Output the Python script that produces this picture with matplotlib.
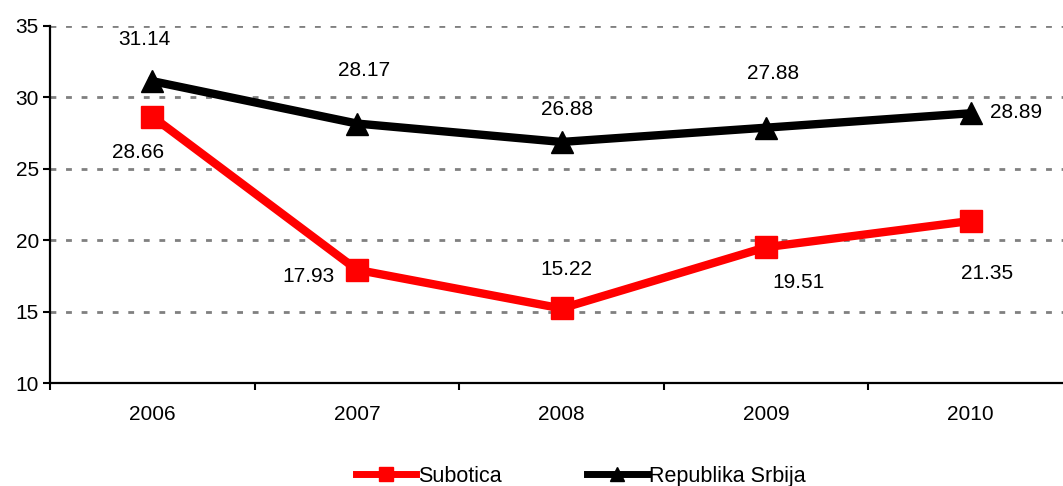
import numpy as np
import matplotlib
matplotlib.use('Agg')
import matplotlib.pyplot as plt

plt.rcParams['font.family'] = ['Liberation Sans', 'DejaVu Sans']
plt.rcParams['font.size'] = 15

# data
years = ['2006', '2007', '2008', '2009', '2010']
subotica = [28.66, 17.93, 15.22, 19.51, 21.35]
srbija = [31.14, 28.17, 26.88, 27.88, 28.89]

# label offsets in pixels (dx, dy up)
sub_off = [(-14, -36), (-48, -7), (5, 39), (32, -35), (16, -53)]
srb_off = [(-8, 42), (7, 53), (6, 32), (7, 54), (45, 1)]

fig = plt.figure(figsize=(10.63, 4.86), dpi=100)
ax = fig.add_axes([50 / 1063, 103 / 486, 1023 / 1063, 357 / 486])

x = np.arange(len(years))
ax.plot(x, subotica, color='#ff0000', lw=6, marker='s', ms=15.5,
        label='Subotica', zorder=3)
ax.plot(x, srbija, color='black', lw=6, marker='^', ms=15.5,
        label='Republika Srbija', zorder=3)

for xi, v, (dx, dy) in zip(x, subotica, sub_off):
    ax.annotate(f'{v:.2f}', (xi, v), xytext=(dx, dy), textcoords='offset pixels',
                ha='center', va='center')
for xi, v, (dx, dy) in zip(x, srbija, srb_off):
    ax.annotate(f'{v:.2f}', (xi, v), xytext=(dx, dy), textcoords='offset pixels',
                ha='center', va='center')

ax.set_xlim(-0.5, 4.5)
ax.set_ylim(10, 35)
ax.set_yticks(range(10, 36, 5))
ax.set_xticks(x)
ax.set_xticklabels(years)
ax.set_xticks(np.arange(-0.5, 5, 1), minor=True)
ax.tick_params(axis='x', which='major', length=0, pad=16)
ax.tick_params(axis='x', which='minor', length=5, width=1.5, direction='out')
ax.tick_params(axis='y', length=5, width=1.5, direction='out', pad=3)

ax.yaxis.grid(True, color='#808080', lw=2.0, linestyle=(0, (2.1, 3.5)))
ax.set_axisbelow(True)
for s in ['top', 'right']:
    ax.spines[s].set_visible(False)
for s in ['left', 'bottom']:
    ax.spines[s].set_linewidth(1.6)

leg = fig.legend(loc='center', bbox_to_anchor=(0.5466, 0.02), ncol=2, frameon=False,
                 handlelength=2.8, handletextpad=0.1, columnspacing=3.95,
                 markerscale=0.65, borderpad=0, fontsize=15.5)
for h in leg.legend_handles:
    h.set_linewidth(5)

fig.savefig('out.png', dpi=100)
